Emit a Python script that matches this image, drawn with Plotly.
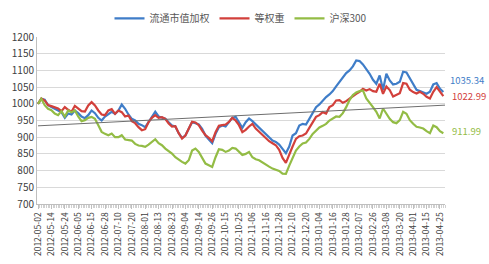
import plotly.graph_objects as go

# Tick labels (every 8 trading days, i.e. every 4th sampled point)
tick_labels = ["2012-05-02", "2012-05-14", "2012-05-24", "2012-06-05", "2012-06-15",
               "2012-06-28", "2012-07-10", "2012-07-20", "2012-08-01", "2012-08-13",
               "2012-08-23", "2012-09-04", "2012-09-14", "2012-09-26", "2012-10-15",
               "2012-10-25", "2012-11-06", "2012-11-16", "2012-11-28", "2012-12-10",
               "2012-12-20", "2013-01-04", "2013-01-16", "2013-01-28", "2013-02-07",
               "2013-02-26", "2013-03-08", "2013-03-20", "2013-04-01", "2013-04-15",
               "2013-04-25"]

# Values sampled every 2 trading days
blue_vals = [1000, 1015, 1012, 996, 990, 985, 981, 975, 958, 971,
             968, 980, 972, 962, 957, 966, 980, 972, 958, 950,
             962, 968, 976, 970, 980, 998, 985, 968, 955, 950,
             940, 936, 930, 945, 960, 976, 962, 958, 955, 945,
             935, 932, 912, 898, 905, 925, 945, 942, 938, 925,
             905, 893, 882, 910, 930, 935, 932, 945, 958, 961,
             945, 928, 945, 956, 948, 938, 928, 918, 910, 898,
             890, 886, 878, 865, 852, 872, 905, 912, 935, 940,
             938, 955, 975, 990, 998, 1010, 1020, 1028, 1038, 1052,
             1066, 1080, 1092, 1100, 1112, 1130, 1128, 1118, 1105, 1090,
             1072, 1060, 1085, 1042, 1090, 1070, 1058, 1060, 1066, 1096,
             1094, 1076, 1056, 1042, 1038, 1034, 1030, 1036, 1058, 1062,
             1045, 1035.34]

red_vals = [1000, 1016, 1010, 996, 993, 989, 986, 978, 990, 982,
            976, 994, 985, 978, 977, 995, 1005, 995, 980, 968,
            966, 980, 984, 970, 980, 975, 962, 965, 948, 942,
            930, 921, 924, 945, 958, 966, 958, 960, 955, 941,
            932, 933, 912, 896, 905, 925, 946, 944, 936, 920,
            906, 898, 888, 915, 934, 936, 938, 946, 958, 950,
            936, 915, 922, 932, 940, 926, 916, 905, 896, 888,
            882, 876, 862, 838, 823, 850, 872, 895, 903, 905,
            911, 928, 945, 961, 966, 975, 971, 990, 996, 1010,
            1011, 1003, 1008, 1016, 1022, 1030, 1036, 1045, 1040, 1044,
            1038, 1036, 1060, 1030, 1052, 1041, 1022, 1026, 1032, 1062,
            1060, 1042, 1035, 1031, 1036, 1030, 1021, 1016, 1036, 1050,
            1036, 1022.99]

green_vals = [1000, 1015, 996, 985, 981, 971, 966, 978, 962, 980,
              975, 980, 962, 948, 951, 958, 961, 955, 936, 916,
              910, 906, 911, 900, 900, 906, 893, 891, 890, 880,
              875, 874, 871, 878, 886, 894, 882, 876, 866, 858,
              851, 840, 832, 826, 821, 831, 860, 866, 856, 836,
              821, 816, 811, 840, 864, 862, 856, 860, 868, 866,
              856, 847, 850, 856, 840, 834, 831, 824, 818, 812,
              806, 803, 799, 791, 790, 815, 840, 860, 872, 881,
              884, 895, 910, 921, 929, 934, 940, 950, 955, 962,
              961, 972, 990, 1011, 1026, 1034, 1038, 1040, 1016, 1001,
              990, 976, 956, 986, 972, 955, 945, 942, 951, 976,
              970, 951, 940, 931, 929, 926, 918, 912, 935, 930,
              918, 911.99]

trend_vals = [934, 996]

series_names = ["流通市值加权", "等权重", "沪深300"]
colors = ["#3F7DC8", "#D2403B", "#93BC45"]

step = 2
x_idx = [i * step for i in range(len(blue_vals))]
tick_pos = [i * 8 for i in range(len(tick_labels))]

fig = go.Figure()
for name, vals, col in zip(series_names, [blue_vals, red_vals, green_vals], colors):
    fig.add_trace(go.Scatter(x=x_idx, y=vals, mode="lines", name=name,
                             line=dict(color=col, width=2.2)))

fig.add_trace(go.Scatter(x=[x_idx[0], x_idx[-1] + 1], y=trend_vals, mode="lines",
                         line=dict(color="#6E6E6E", width=1), showlegend=False,
                         hoverinfo="skip"))

end_vals = [blue_vals[-1], red_vals[-1], green_vals[-1]]
label_shift_px = [12, 0, 2]
label_xshift = [3, 5, 5]
for v, col, ys, xs in zip(end_vals, colors, label_shift_px, label_xshift):
    fig.add_annotation(x=1, xref="paper", y=v, yref="y", text=f"{v:.2f}",
                       showarrow=False, xanchor="left", xshift=xs, yshift=ys,
                       font=dict(color=col, size=9.5))

fig.update_layout(
    width=489, height=264,
    margin=dict(l=37, r=44, t=37, b=60, autoexpand=False),
    paper_bgcolor="white", plot_bgcolor="white",
    font=dict(family="Noto Sans CJK SC, Noto Sans, sans-serif", size=10, color="#404040"),
    legend=dict(orientation="h", x=0.5, xanchor="center", y=0.985, yanchor="top",
                yref="container", font=dict(size=10, color="#595959"),
                itemwidth=30, tracegroupgap=0),
    showlegend=True,
)

fig.update_xaxes(range=[-0.6, 243], tickmode="array", tickvals=tick_pos,
                 ticktext=tick_labels, tickangle=-90, tickfont=dict(size=8.5, color="#404040"),
                 showgrid=False, showline=True, linecolor="#BFBFBF", zeroline=False,
                 ticks="outside", ticklen=4, tickcolor="#BFBFBF",
                 minor=dict(dtick=1, tick0=0, ticks="outside", ticklen=3, tickcolor="#D0D0D0"))
fig.update_yaxes(range=[700, 1200], dtick=50, showgrid=True, gridcolor="#D9D9D9",
                 showline=True, linecolor="#BFBFBF", zeroline=False,
                 tickfont=dict(size=10, color="#404040"))

fig.write_html("out.html")
